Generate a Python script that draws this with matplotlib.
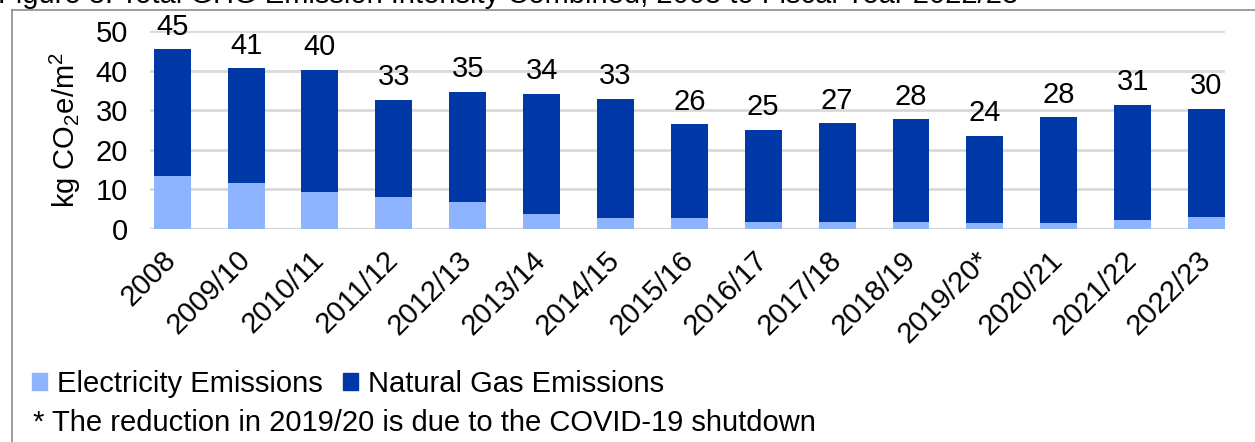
import matplotlib
matplotlib.use('Agg')
import matplotlib.pyplot as plt
import matplotlib.transforms as mtransforms
from matplotlib.patches import Patch
from matplotlib.lines import Line2D

plt.rcParams['font.family'] = ['Liberation Sans', 'DejaVu Sans']
plt.rcParams['mathtext.fontset'] = 'custom'
plt.rcParams['mathtext.rm'] = 'Liberation Sans'
plt.rcParams['mathtext.it'] = 'Liberation Sans'

# data
years = ['2008', '2009/10', '2010/11', '2011/12', '2012/13', '2013/14', '2014/15',
         '2015/16', '2016/17', '2017/18', '2018/19', '2019/20*', '2020/21',
         '2021/22', '2022/23']
electricity = [13.3, 11.6, 9.3, 8.0, 6.7, 3.8, 2.7, 2.7, 1.7, 1.7, 1.7, 1.4, 1.4, 2.3, 3.0]
natural_gas = [32.1, 29.0, 30.9, 24.7, 28.0, 30.4, 30.2, 23.7, 23.4, 25.1, 26.1, 22.2, 26.9, 29.1, 27.4]
total_labels = ['45', '41', '40', '33', '35', '34', '33', '26', '25', '27', '28', '24', '28', '31', '30']

elec_color = '#8fb4ff'
gas_color = '#0038a8'
fs = 21

W, H = 1255, 442
fig = plt.figure(figsize=(W / 100, H / 100), dpi=100)
ax = fig.add_axes([150 / W, 1 - 229 / H, 1075 / W, 198 / H])

x = list(range(len(years)))
ax.bar(x, electricity, width=0.5, color=elec_color, zorder=3)
bars = ax.bar(x, natural_gas, width=0.5, bottom=electricity, color=gas_color, zorder=3)
ax.bar_label(bars, labels=total_labels, padding=6, fontsize=fs)

ax.set_ylim(0, 50)
ax.set_xlim(-0.3, 14.25)
ax.set_yticks([0, 10, 20, 30, 40, 50])
ax.yaxis.grid(True, color='#d9d9d9', linewidth=2, zorder=0)
for s in ax.spines.values():
    s.set_visible(False)
ax.axhline(0, color='#d9d9d9', linewidth=2.5, zorder=2)
ax.tick_params(axis='y', length=0, pad=16, labelsize=fs)
ax.tick_params(axis='x', length=0, pad=12)
ax.set_xticks(x)
ax.set_xticklabels(years, rotation=45, ha='right', rotation_mode='anchor', fontsize=fs)
# nudge the slanted labels a little to the left
shift = mtransforms.ScaledTranslation(-10 / 100, 0, fig.dpi_scale_trans)
for lab in ax.get_xticklabels():
    lab.set_transform(lab.get_transform() + shift)

ax.set_ylabel('kg CO$_2$e/m$^2$', fontsize=fs)
ax.yaxis.set_label_coords(-0.062, 0.5)

# title, clipped at the very top like the source image
fig.text(-2 / W, 1 - 3 / H, 'Figure 3: Total GHG Emission Intensity Combined, 2008 to Fiscal Year 2022/23',
         fontsize=fs, va='baseline', ha='left')

# frame lines
fig.add_artist(Line2D([12 / W, 1], [1 - 9.5 / H, 1 - 9.5 / H], color='#8c8c8c', lw=1.2))
fig.add_artist(Line2D([12 / W, 12 / W], [0, 1 - 9.5 / H], color='#8c8c8c', lw=1.2))

handles = [Patch(color=elec_color), Patch(color=gas_color)]
fig.legend(handles, ['Electricity Emissions', 'Natural Gas Emissions'],
           loc='center left', bbox_to_anchor=(32 / W, 1 - 384 / H), ncol=2,
           frameon=False, fontsize=fs, handlelength=0.5, handleheight=0.5,
           handletextpad=0.35, columnspacing=0.7, borderpad=0, borderaxespad=0)

fig.text(33 / W, 1 - 423 / H, '* The reduction in 2019/20 is due to the COVID-19 shutdown',
         fontsize=fs, va='center', ha='left')

fig.savefig('out.png', dpi=100)
